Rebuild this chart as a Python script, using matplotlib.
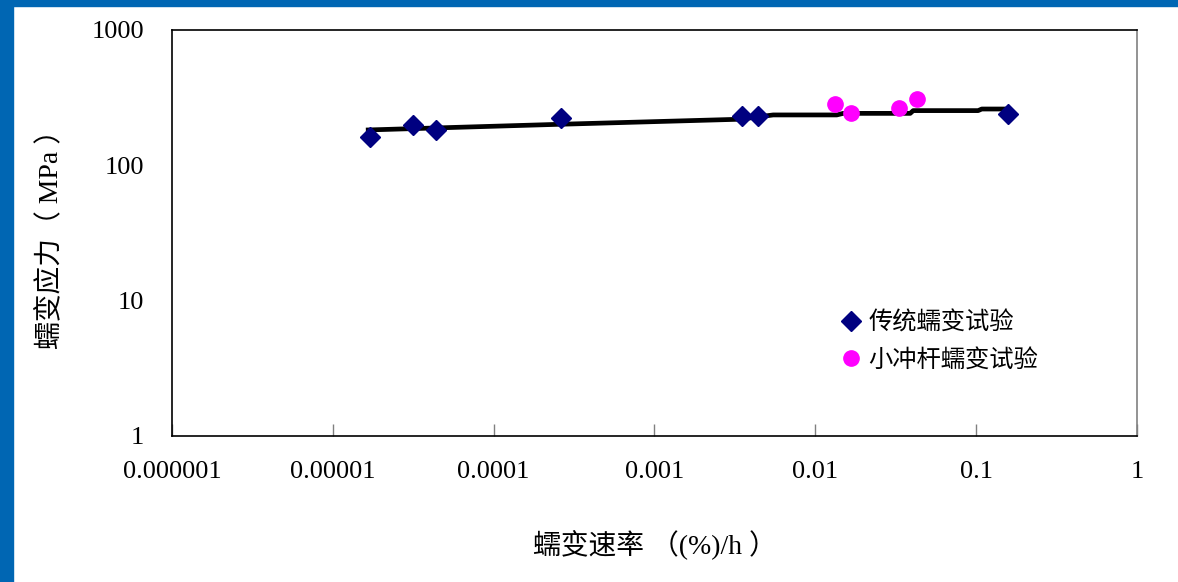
import matplotlib.pyplot as plt
from matplotlib.patches import Rectangle

# 传统蠕变试验
conv_rate = [1.70e-5, 3.16e-5, 4.39e-5, 2.61e-4, 3.52e-3, 4.39e-3, 0.157]
conv_stress = [161, 199, 182, 225, 231, 231, 238]

# 小冲杆蠕变试验
spt_rate = [0.0133, 0.0167, 0.0332, 0.0430]
spt_stress = [284, 245, 264, 309]

# 拟合线
fit_rate = [1.66e-5, 2.59e-4, 3.40e-3, 5.47e-3, 0.0136, 0.0149, 0.0389,
            0.0406, 0.1028, 0.1084, 0.158]
fit_stress = [182.5, 201, 219, 235.6, 235.6, 242, 242, 253.6, 253.6,
              260.6, 260.6]

xticks = [1e-6, 1e-5, 1e-4, 1e-3, 1e-2, 1e-1, 1]
xticklabels = ['0.000001', '0.00001', '0.0001', '0.001', '0.01', '0.1', '1']
yticks = [1, 10, 100, 1000]
yticklabels = ['1', '10', '100', '1000']

serif = ['Liberation Serif', 'Noto Sans CJK SC']
cjk = ['Noto Sans CJK SC', 'Liberation Serif']

fig = plt.figure(figsize=(11.78, 5.82), dpi=100)
fig.patches.append(Rectangle((0, 0), 13, 582, transform=None,
                             color='#0066B3', zorder=10))
fig.patches.append(Rectangle((0, 576), 1178, 6, transform=None,
                             color='#0066B3', zorder=10))

ax = fig.add_axes([0.146, 0.2509, 0.8192, 0.6976])
ax.set_xscale('log')
ax.set_yscale('log')
ax.set_xlim(1e-6, 1)
ax.set_ylim(1, 1000)

ax.plot(fit_rate, fit_stress, color='black', lw=3.4, zorder=2)
ax.plot(conv_rate, conv_stress, 'D', color='#000080', ms=10, ls='none',
        zorder=3, label='传统蠕变试验')
ax.plot(spt_rate, spt_stress, 'o', color='#FF00FF', ms=11, ls='none',
        zorder=3, label='小冲杆蠕变试验')

ax.set_xticks(xticks)
ax.set_xticklabels(xticklabels, family=serif, fontsize=19)
ax.set_yticks(yticks)
ax.set_yticklabels(yticklabels, family=serif, fontsize=19)
ax.minorticks_off()
ax.tick_params(axis='x', direction='in', length=9, width=1, color='#808080',
               pad=18, top=False)
ax.tick_params(axis='y', direction='in', length=0, pad=20, right=False)
for s in ax.spines.values():
    s.set_color('black')
    s.set_linewidth(1.2)
ax.spines['right'].set_color('#808080')

leg = ax.legend(loc='upper left', bbox_to_anchor=(0.68, 0.335), frameon=False,
                prop={'family': cjk, 'size': 17.5}, handletextpad=0.15,
                labelspacing=0.45, handlelength=1.1, borderaxespad=0)

fig.text(0.556, 0.063, '蠕变速率 （(%)/h ）', ha='center', va='center',
         family=serif, fontsize=20)
fig.text(0.043, 0.6, '蠕变应力（ MPa ）', ha='center', va='center',
         rotation=90, family=serif, fontsize=20, weight='medium')

fig.savefig('out.png', dpi=100)
